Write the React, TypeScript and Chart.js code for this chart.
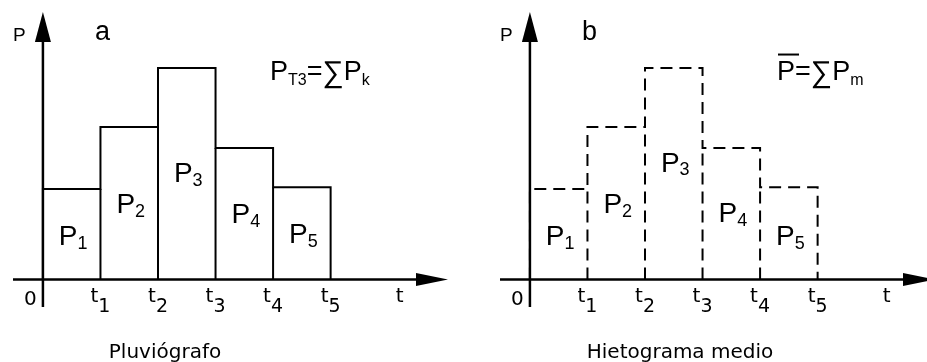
import React, { useEffect, useRef } from 'react';
import { Chart, registerables } from 'chart.js';

Chart.register(...registerables);

// ---------------- data ----------------
const TIME_BOUNDS = [0, 1, 2, 3, 4, 5];
const TIME_SUBS = ['1', '2', '3', '4', '5'];
const RAIN = [3.0, 5.05, 7.0, 4.35, 3.05];
const BAR_SUBS = ['1', '2', '3', '4', '5'];
const LABEL_Y_A = [1.14, 2.2, 3.22, 1.87, 1.2];
const LABEL_Y_B = [1.14, 2.2, 3.56, 1.9, 1.14];
const CAPTIONS = ['Pluviógrafo', 'Hietograma medio'];
const PANEL_LETTERS = ['a', 'b'];

// ---------------- layout ----------------
const X_MIN = -0.52;
const X_MAX = 7.04;
const Y_MIN = -0.91;
const Y_MAX = 8.855;
const CW = 463;
const CH = 362;

const SANS = '"Liberation Sans", Arial, sans-serif';
const VERD = '"DejaVu Sans", Verdana, sans-serif';

type Run = { t: string; size: number; dy?: number; fam?: string; over?: boolean };

function runsWidth(ctx: CanvasRenderingContext2D, runs: Run[]) {
  let w = 0;
  for (const r of runs) {
    ctx.font = `${r.size}px ${r.fam || SANS}`;
    w += ctx.measureText(r.t).width;
  }
  return w;
}

function drawRuns(ctx: CanvasRenderingContext2D, x: number, y: number, runs: Run[]) {
  for (const r of runs) {
    ctx.font = `${r.size}px ${r.fam || SANS}`;
    ctx.fillText(r.t, x, y + (r.dy || 0));
    const w = ctx.measureText(r.t).width;
    if (r.over) {
      ctx.fillRect(x + 1, y - r.size * 0.98, w + 3, 2);
    }
    x += w;
  }
  return x;
}

type PanelCfg = {
  dashed: boolean;
  letter: string;
  caption: string;
  captionX: number;
  labelY: number[];
  formula: Run[];
  formulaX: number;
};

function buildChart(canvas: HTMLCanvasElement, cfg: PanelCfg) {
  const outline: { x: number; y: number }[] = [{ x: TIME_BOUNDS[0], y: 0 }];
  RAIN.forEach((p, i) => {
    outline.push({ x: TIME_BOUNDS[i], y: p });
    outline.push({ x: TIME_BOUNDS[i + 1], y: p });
  });
  outline.push({ x: TIME_BOUNDS[TIME_BOUNDS.length - 1], y: 0 });

  const verticals: { x: number; y: number }[][] = [];
  for (let i = 1; i < RAIN.length; i++) {
    verticals.push([
      { x: TIME_BOUNDS[i], y: 0 },
      { x: TIME_BOUNDS[i], y: Math.min(RAIN[i - 1], RAIN[i]) },
    ]);
  }

  const dash = cfg.dashed ? [12, 7] : [];
  const datasets = [outline, ...verticals].map((d) => ({
    data: d,
    borderColor: '#000',
    borderWidth: 2,
    borderDash: dash,
    pointRadius: 0,
    fill: false,
    tension: 0,
    borderCapStyle: 'butt' as const,
    borderJoinStyle: 'miter' as const,
  }));

  const decor = {
    id: 'decor',
    afterDatasetsDraw(chart: any) {
      const ctx: CanvasRenderingContext2D = chart.ctx;
      const xs = chart.scales.x;
      const ys = chart.scales.y;
      const px = (v: number) => xs.getPixelForValue(v);
      const py = (v: number) => ys.getPixelForValue(v);
      ctx.save();
      ctx.fillStyle = '#000';
      ctx.strokeStyle = '#000';
      ctx.setLineDash([]);

      // x axis
      const y0 = py(0);
      const xTip = px(X_MAX);
      ctx.lineWidth = 2.5;
      ctx.beginPath();
      ctx.moveTo(px(X_MIN), y0);
      ctx.lineTo(xTip - 30, y0);
      ctx.stroke();
      ctx.beginPath();
      ctx.moveTo(xTip, y0);
      ctx.lineTo(xTip - 32, y0 - 6.5);
      ctx.lineTo(xTip - 32, y0 + 6.5);
      ctx.closePath();
      ctx.fill();

      // y axis
      const x0 = px(0);
      const yTip = py(Y_MAX);
      ctx.beginPath();
      ctx.moveTo(x0, py(Y_MIN));
      ctx.lineTo(x0, yTip + 28);
      ctx.stroke();
      ctx.beginPath();
      ctx.moveTo(x0, yTip);
      ctx.lineTo(x0 - 8, yTip + 30);
      ctx.lineTo(x0 + 8, yTip + 30);
      ctx.closePath();
      ctx.fill();

      ctx.textBaseline = 'alphabetic';
      ctx.textAlign = 'left';

      // axis labels
      ctx.font = `19px ${SANS}`;
      ctx.fillText('P', x0 - 30, yTip + 29);
      ctx.font = `27px ${SANS}`;
      ctx.fillText(cfg.letter, x0 + 52, yTip + 28);

      // tick labels
      ctx.font = `20px ${VERD}`;
      ctx.textAlign = 'center';
      ctx.fillText('0', x0 - 12.5, y0 + 25.5);
      ctx.fillText('t', px(6.2), y0 + 22.5);
      ctx.textAlign = 'left';
      TIME_SUBS.forEach((s, i) => {
        const runs: Run[] = [
          { t: 't', size: 20, fam: VERD },
          { t: s, size: 19, fam: VERD, dy: 10 },
        ];
        const w = runsWidth(ctx, runs);
        drawRuns(ctx, px(TIME_BOUNDS[i + 1]) - w / 2, y0 + 22.5, runs);
      });

      // bar labels
      BAR_SUBS.forEach((s, i) => {
        const runs: Run[] = [
          { t: 'P', size: 28 },
          { t: s, size: 18, dy: 3.5 },
        ];
        const w = runsWidth(ctx, runs);
        const cx = (px(TIME_BOUNDS[i]) + px(TIME_BOUNDS[i + 1])) / 2;
        drawRuns(ctx, cx - w / 2 + 1.5, py(cfg.labelY[i]), runs);
      });

      // formula
      drawRuns(ctx, cfg.formulaX, yTip + 68, cfg.formula);

      // caption
      ctx.font = `20px ${VERD}`;
      ctx.textAlign = 'center';
      ctx.fillText(cfg.caption, cfg.captionX, y0 + 78.5);

      ctx.restore();
    },
  };

  return new Chart(canvas, {
    type: 'line',
    data: { datasets: datasets as any },
    options: {
      animation: false,
      responsive: false,
      devicePixelRatio: 1,
      events: [],
      layout: { padding: { left: 13, right: CW - 448, top: 12, bottom: CH - 307 } },
      plugins: { legend: { display: false }, title: { display: false }, tooltip: { enabled: false } },
      scales: {
        x: { type: 'linear', min: X_MIN, max: X_MAX, display: false },
        y: { type: 'linear', min: Y_MIN, max: Y_MAX, display: false },
      },
    },
    plugins: [decor],
  });
}

export default function App() {
  const aRef = useRef<HTMLCanvasElement>(null);
  const bRef = useRef<HTMLCanvasElement>(null);

  useEffect(() => {
    const a = buildChart(aRef.current!, {
      dashed: false,
      letter: PANEL_LETTERS[0],
      caption: CAPTIONS[0],
      captionX: 165,
      labelY: LABEL_Y_A,
      formulaX: 270,
      formula: [
        { t: 'P', size: 27 },
        { t: 'T3', size: 16, dy: 5 },
        { t: '=', size: 27 },
        { t: '∑', size: 30, dy: 2 },
        { t: 'P', size: 27 },
        { t: 'k', size: 16, dy: 5 },
      ],
    });
    const b = buildChart(bRef.current!, {
      dashed: true,
      letter: PANEL_LETTERS[1],
      caption: CAPTIONS[1],
      captionX: 193,
      labelY: LABEL_Y_B,
      formulaX: 290,
      formula: [
        { t: 'P', size: 27, over: true },
        { t: '=', size: 27 },
        { t: '∑', size: 30, dy: 2 },
        { t: 'P', size: 27 },
        { t: 'm', size: 16, dy: 5 },
      ],
    });
    return () => {
      a.destroy();
      b.destroy();
    };
  }, []);

  return (
    <div
      style={{
        position: 'fixed',
        left: 0,
        top: 0,
        width: 927,
        height: 362,
        overflow: 'hidden',
        background: '#fff',
      }}
    >
      <canvas ref={aRef} width={CW} height={CH} style={{ position: 'absolute', left: 0, top: 0 }} />
      <canvas ref={bRef} width={CW} height={CH} style={{ position: 'absolute', left: 487, top: 0 }} />
    </div>
  );
}
